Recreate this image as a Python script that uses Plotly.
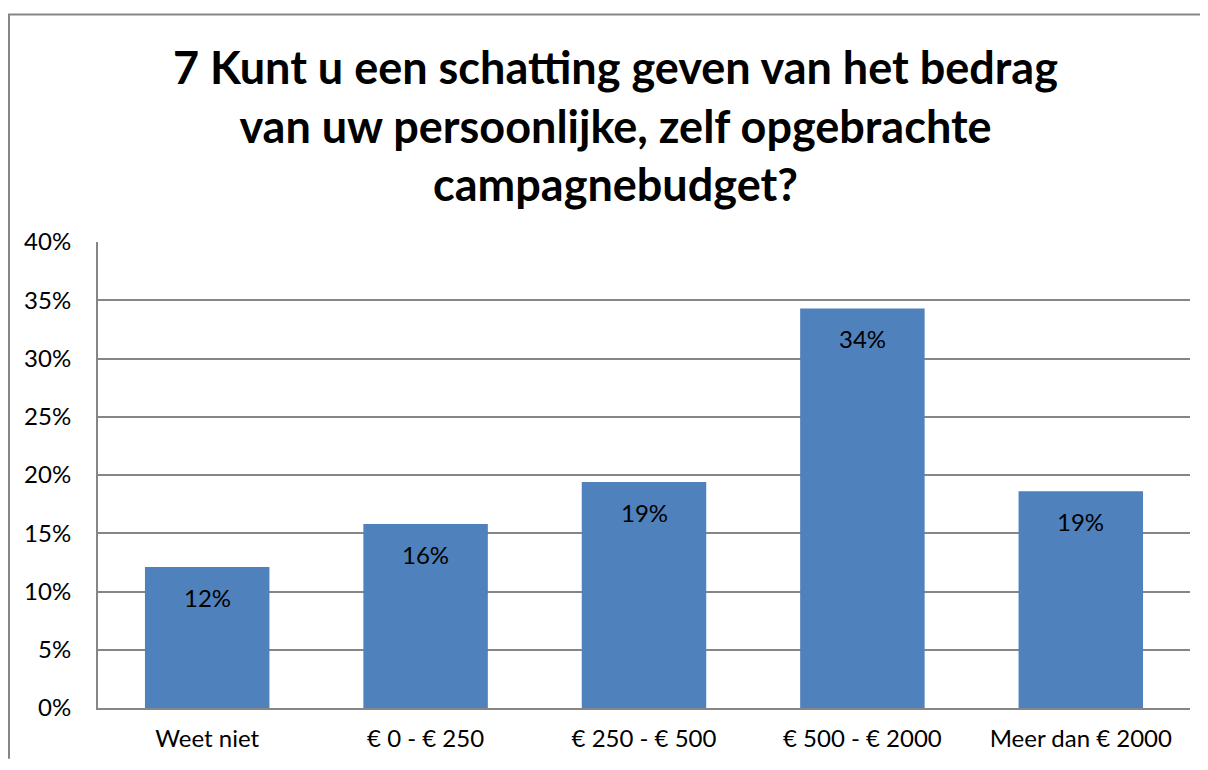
import plotly.graph_objects as go

categories = ["Weet niet", "€ 0 - € 250", "€ 250 - € 500", "€ 500 - € 2000", "Meer dan € 2000"]
values = [12.1, 15.8, 19.4, 34.3, 18.6]
labels = ["12%", "16%", "19%", "34%", "19%"]
ytick_vals = [0, 5, 10, 15, 20, 25, 30, 35, 40]
ytick_text = ["0%", "5%", "10%", "15%", "20%", "25%", "30%", "35%", "40%"]
title_text = ("7 Kunt u een schatting geven van het bedrag<br>"
              "van uw persoonlijke, zelf opgebrachte<br>campagnebudget?")

# page has an 8px body margin; figure coordinates = reference coordinates - 8
OFF = 8
W, H = 1192, 754
ml, mr, mt, mb = 90, 10, 234, 51
pw, ph = W - ml - mr, H - mt - mb

def px_x(x):
    return (x - OFF - ml) / pw

def px_y(y):
    return (H - mb - (y - OFF)) / ph

FONT = "Lato"
GRID = "#868686"

fig = go.Figure()
fig.add_trace(go.Bar(
    x=categories, y=values,
    marker=dict(color="#4F81BD", line=dict(width=0)),
    width=0.57,
    hoverinfo="skip",
))

for c, v, t in zip(categories, values, labels):
    fig.add_annotation(x=c, y=v, xref="x", yref="y", text=t, showarrow=False,
                       yanchor="top", yshift=-14,
                       font=dict(family=FONT, size=24, color="#000000"))

fig.add_annotation(x=px_x(615), y=px_y(125), xref="paper", yref="paper",
                   text=title_text, showarrow=False, xanchor="center", yanchor="middle",
                   font=dict(family=FONT, size=45, color="#000000", weight="bold"))

# outer chart border (only left and top edges are visible in the reference)
fig.add_shape(type="line", xref="paper", yref="paper",
              x0=px_x(9), x1=px_x(9), y0=px_y(13), y1=px_y(762),
              line=dict(color=GRID, width=2), layer="below")
fig.add_shape(type="line", xref="paper", yref="paper",
              x0=px_x(8), x1=px_x(1200), y0=px_y(13), y1=px_y(13),
              line=dict(color=GRID, width=2), layer="below")

fig.update_layout(
    width=W, height=H,
    margin=dict(l=ml, r=mr, t=mt, b=mb, pad=0),
    paper_bgcolor="white", plot_bgcolor="white",
    showlegend=False,
    bargap=0.43,
    font=dict(family=FONT, size=24, color="#000000"),
    xaxis=dict(showgrid=False, showline=True, linecolor=GRID, linewidth=2,
               ticks="", tickfont=dict(family=FONT, size=24, color="#000000"),
               ticklabelstandoff=8, fixedrange=True),
    yaxis=dict(range=[0, 40], tickvals=ytick_vals, ticktext=ytick_text,
               showgrid=True, gridcolor=GRID, gridwidth=2,
               showline=True, linecolor=GRID, linewidth=2, zeroline=False,
               ticks="", tickfont=dict(family=FONT, size=24, color="#000000"),
               ticklabelstandoff=20, fixedrange=True),
)

fig.write_html("out.html", config={"displayModeBar": False})
